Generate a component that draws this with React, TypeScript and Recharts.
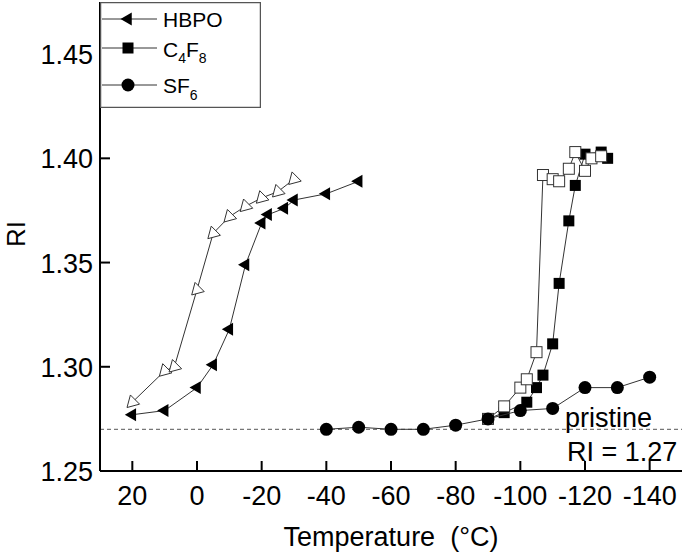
import React from 'react';
import { ScatterChart, Scatter, XAxis, YAxis, ReferenceLine, Legend } from 'recharts';

// HBPO, cooling (filled) and heating (open)
const hbpoCoolT = [20, 10, 0, -5, -10, -15, -20, -22, -27, -30, -40, -50];
const hbpoCoolRI = [1.277, 1.279, 1.290, 1.301, 1.318, 1.349, 1.369, 1.373, 1.376, 1.380, 1.383, 1.389];
const hbpoHeatT = [20, 10, 7, 0, -5, -10, -15, -20, -25, -30];
const hbpoHeatRI = [1.283, 1.298, 1.300, 1.337, 1.364, 1.372, 1.377, 1.381, 1.384, 1.390];

// C4F8
const c4f8CoolT = [-90, -95, -102, -105, -107, -110, -112, -115, -117, -120, -125, -127];
const c4f8CoolRI = [1.275, 1.278, 1.283, 1.290, 1.296, 1.311, 1.340, 1.370, 1.387, 1.402, 1.403, 1.400];
const c4f8HeatT = [-90, -95, -100, -102, -105, -107, -110, -112, -115, -117, -120, -122, -125];
const c4f8HeatRI = [1.275, 1.281, 1.290, 1.294, 1.307, 1.392, 1.390, 1.389, 1.395, 1.403, 1.394, 1.400, 1.401];

// SF6
const sf6T = [-40, -50, -60, -70, -80, -90, -100, -110, -120, -130, -140];
const sf6RI = [1.270, 1.271, 1.270, 1.270, 1.272, 1.275, 1.279, 1.280, 1.290, 1.290, 1.295];

const xTicks = [20, 0, -20, -40, -60, -80, -100, -120, -140];
const yTicks = [1.25, 1.3, 1.35, 1.4, 1.45];
const pristineRI = 1.27;

const FONT = '"Liberation Sans", Arial, sans-serif';
const LINE = '#333';

const toPoints = (ts: number[], ris: number[]) => ts.map((t, i) => ({ t, ri: ris[i] }));

const triPath = (cx: number, cy: number, angle: number, r: number) => {
  const pts = [0, 120, 240].map((d) => {
    const a = ((angle + d) * Math.PI) / 180;
    return `${cx + r * Math.cos(a)},${cy + r * Math.sin(a)}`;
  });
  return `M${pts[0]}L${pts[1]}L${pts[2]}Z`;
};

const FilledTri = (p: any) => <path d={triPath(p.cx, p.cy, 180, 7.5)} fill="#000" />;
const OpenTri = (p: any) => (
  <path d={triPath(p.cx, p.cy, 135, 7.5)} fill="#fff" stroke={LINE} strokeWidth={1} />
);
const FilledSq = (p: any) => <rect x={p.cx - 5.5} y={p.cy - 5.5} width={11} height={11} fill="#000" />;
const OpenSq = (p: any) => (
  <rect x={p.cx - 5.5} y={p.cy - 5.5} width={11} height={11} fill="#fff" stroke={LINE} strokeWidth={1} />
);
const Dot = (p: any) => <circle cx={p.cx} cy={p.cy} r={6.5} fill="#000" />;

const BottomTick = ({ x, y, payload }: any) => (
  <g>
    <line x1={x} x2={x} y1={y} y2={y - 10} stroke="#000" strokeWidth={2} />
    <text x={x} y={y + 34} textAnchor="middle" fontSize={27} fontFamily={FONT} fill="#000">
      {payload.value}
    </text>
  </g>
);
const TopTick = ({ x, y }: any) => <line x1={x} x2={x} y1={y} y2={y + 10} stroke="#000" strokeWidth={2} />;
const LeftTick = ({ x, y, payload }: any) => (
  <g>
    <line x1={x} x2={x + 10} y1={y} y2={y} stroke="#000" strokeWidth={2} />
    <text x={x - 7} y={y + 10} textAnchor="end" fontSize={27} fontFamily={FONT} fill="#000">
      {payload.value.toFixed(2)}
    </text>
  </g>
);
const RightTick = ({ x, y, payload }: any) =>
  payload.value <= 1.25 ? <g /> : <line x1={x - 10} x2={x} y1={y} y2={y} stroke="#000" strokeWidth={2} />;

const LegendBox = () => (
  <svg width={161} height={106} style={{ display: 'block' }}>
    <rect x={0.5} y={0.5} width={160} height={105} fill="#fff" stroke="#555" strokeWidth={1.5} />
    <g fontFamily={FONT} fill="#000" fontSize={21}>
      <line x1={2} x2={57} y1={17} y2={17} stroke={LINE} />
      <path d={triPath(28, 17, 180, 7.5)} fill="#000" />
      <text x={63} y={25}>HBPO</text>

      <line x1={2} x2={57} y1={46} y2={46} stroke={LINE} />
      <rect x={22.5} y={40.5} width={11} height={11} fill="#000" />
      <text x={63} y={55}>
        C<tspan fontSize={14} dy={6}>4</tspan>
        <tspan dy={-6}>F</tspan>
        <tspan fontSize={14} dy={6}>8</tspan>
      </text>

      <line x1={2} x2={57} y1={83} y2={83} stroke={LINE} />
      <circle cx={28} cy={83} r={6.5} fill="#000" />
      <text x={63} y={91}>
        SF<tspan fontSize={14} dy={7}>6</tspan>
      </text>
    </g>
  </svg>
);

const PristineLabel = ({ viewBox }: any) => {
  const right = viewBox.x + viewBox.width;
  return (
    <g fontFamily={FONT} fontSize={27} fill="#000">
      <text x={right - 117} y={viewBox.y - 2}>pristine</text>
      <text x={right - 115} y={viewBox.y + 32}>RI = 1.27</text>
    </g>
  );
};

export default function App() {
  return (
    <div style={{ width: 685, height: 558, position: 'relative', background: '#fff' }}>
      <style>{'body{margin:0}'}</style>
      <ScatterChart width={685} height={558} margin={{ top: 2, right: 3, bottom: 0, left: 0 }}>
        <XAxis
          dataKey="t"
          type="number"
          domain={[-150, 30]}
          reversed
          ticks={xTicks}
          interval={0}
          height={87}
          tickSize={0}
          tickMargin={0}
          tick={<BottomTick />}
          axisLine={{ stroke: '#000', strokeWidth: 2 }}
          allowDataOverflow
        />
        <XAxis
          xAxisId="top"
          orientation="top"
          type="number"
          domain={[-150, 30]}
          reversed
          ticks={xTicks}
          interval={0}
          height={0}
          tickSize={0}
          tickMargin={0}
          tick={<TopTick />}
          axisLine={{ stroke: '#000', strokeWidth: 2 }}
          allowDataOverflow
        />
        <YAxis
          dataKey="ri"
          type="number"
          domain={[1.25, 1.475]}
          ticks={yTicks}
          interval={0}
          width={100}
          tickSize={0}
          tickMargin={0}
          tick={<LeftTick />}
          axisLine={{ stroke: '#000', strokeWidth: 2 }}
          allowDataOverflow
        />
        <YAxis
          yAxisId="right"
          orientation="right"
          type="number"
          domain={[1.25, 1.475]}
          ticks={yTicks}
          interval={0}
          width={0}
          tickSize={0}
          tickMargin={0}
          tick={<RightTick />}
          axisLine={{ stroke: '#000', strokeWidth: 2 }}
          allowDataOverflow
        />
        <ReferenceLine y={pristineRI} stroke="#555" strokeDasharray="4 3" strokeWidth={1} label={<PristineLabel />} />
        <Scatter
          name="HBPO"
          data={toPoints(hbpoCoolT, hbpoCoolRI)}
          line={{ stroke: LINE, strokeWidth: 1 }}
          lineType="joint"
          shape={<FilledTri />}
          isAnimationActive={false}
        />
        <Scatter
          name="HBPO heating"
          data={toPoints(hbpoHeatT, hbpoHeatRI)}
          line={{ stroke: LINE, strokeWidth: 1 }}
          lineType="joint"
          shape={<OpenTri />}
          isAnimationActive={false}
        />
        <Scatter
          name="C4F8"
          data={toPoints(c4f8CoolT, c4f8CoolRI)}
          line={{ stroke: LINE, strokeWidth: 1 }}
          lineType="joint"
          shape={<FilledSq />}
          isAnimationActive={false}
        />
        <Scatter
          name="C4F8 heating"
          data={toPoints(c4f8HeatT, c4f8HeatRI)}
          line={{ stroke: LINE, strokeWidth: 1 }}
          lineType="joint"
          shape={<OpenSq />}
          isAnimationActive={false}
        />
        <Scatter
          name="SF6"
          data={toPoints(sf6T, sf6RI)}
          line={{ stroke: LINE, strokeWidth: 1 }}
          lineType="joint"
          shape={<Dot />}
          isAnimationActive={false}
        />
        <Legend
          layout="vertical"
          align="center"
          verticalAlign="middle"
          content={<LegendBox />}
          wrapperStyle={{ left: 100, top: 2, width: 161, height: 106 }}
        />
      </ScatterChart>
      <svg
        width={685}
        height={558}
        style={{ position: 'absolute', left: 0, top: 0, pointerEvents: 'none' }}
      >
        <text
          x={25}
          y={234}
          transform="rotate(-90 25 234)"
          textAnchor="middle"
          fontSize={26}
          fontFamily={FONT}
          fill="#000"
        >
          RI
        </text>
        <text x={391} y={546} textAnchor="middle" fontSize={27} fontFamily={FONT} fill="#000">
          {'Temperature\u00a0 (°C)'}
        </text>
      </svg>
    </div>
  );
}
